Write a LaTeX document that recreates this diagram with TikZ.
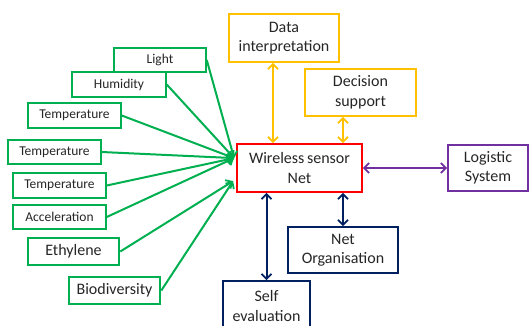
\documentclass[tikz,border=0pt]{standalone}
\usepackage{fontspec}
\setmainfont{Carlito}
\usetikzlibrary{arrows.meta,calc}
\definecolor{sgreen}{RGB}{0,176,80}
\definecolor{sgold}{RGB}{255,192,0}
\definecolor{sred}{RGB}{255,0,0}
\definecolor{spurple}{RGB}{112,48,160}
\definecolor{snavy}{RGB}{0,32,96}
\definecolor{stext}{RGB}{38,38,38}
\tikzset{
  box/.style={draw, line width=1.8pt, align=center, inner sep=0pt, text=stext, fill=white},
  sbox/.style={box, draw=sgreen, line width=1.5pt, font=\fontsize{13.5}{16}\selectfont},
  lbox/.style={box, draw=sgreen, line width=2.6pt, font=\fontsize{16}{19}\selectfont},
  mbox/.style={box, font=\fontsize{16}{19.5}\selectfont},
  tip/.style={Straight Barb[length=5pt,width=10pt,line width=1.8pt]},
  arr/.style={line width=2pt, -{Straight Barb[length=5pt,width=10pt,line width=1.8pt]}},
  darr/.style={line width=2pt, {Straight Barb[length=5pt,width=10pt,line width=1.8pt]}-{Straight Barb[length=5pt,width=10pt,line width=1.8pt]}},
}
\begin{document}
\begin{tikzpicture}[x=1pt,y=-1pt]
\useasboundingbox (0,0) rectangle (530,325);
\clip (0,0) rectangle (530,325);
% green sensor boxes
\node[sbox, minimum width=92pt, minimum height=24pt] (light) at (160,60) {Light};
\node[sbox, minimum width=94pt, minimum height=25pt] (hum) at (119,84.5) {Humidity};
\node[sbox, minimum width=93pt, minimum height=25pt] (t1) at (74.5,115.5) {Temperature};
\node[sbox, minimum width=93pt, minimum height=24pt] (t2) at (54.5,152) {Temperature};
\node[sbox, minimum width=93pt, minimum height=25pt] (t3) at (59.5,185.5) {Temperature};
\node[sbox, minimum width=93pt, minimum height=24pt] (acc) at (59.5,217) {Acceleration};
\node[lbox, minimum width=91pt, minimum height=27pt] (eth) at (73.5,251.5) {Ethylene};
\node[lbox, minimum width=91pt, minimum height=27pt] (bio) at (114.5,290.5) {Biodiversity};
% central and other boxes
\node[mbox, draw=sred, minimum width=125pt, minimum height=48pt] (wsn) at (299.5,168) {Wireless\,sensor\\Net};
\node[mbox, draw=sgold, minimum width=110pt, minimum height=48pt] (data) at (284,38) {Data\\interpretation};
\node[mbox, draw=sgold, minimum width=111pt, minimum height=47pt] (dec) at (360.5,92.5) {Decision\\support};
\node[mbox, draw=spurple, minimum width=80pt, minimum height=46pt] (log) at (488,168) {Logistic\\System};
\node[mbox, draw=snavy, minimum width=110pt, minimum height=46pt] (net) at (343,250) {Net\\Organisation};
\node[mbox, draw=snavy, minimum width=87pt, minimum height=50pt, text depth=0pt] (self) at (266.5,306) {Self\\evaluation};
% convergence points on the left side of the central box
\coordinate (up) at ($(wsn.north west)+(-2,15)$);
\coordinate (lo) at ($(wsn.north west)+(-3,38)$);
% green arrows
\foreach \n in {light,hum,t1,t2,t3,acc}
  \draw[arr, sgreen] (\n.east) -- (up);
\foreach \n in {eth,bio}
  \draw[arr, sgreen] (\n.east) -- (lo);
% yellow arrows
\draw[darr, sgold] ([xshift=-11pt]data.south) -- ([xshift=-11pt]data.south |- wsn.north);
\draw[darr, sgold] ([xshift=-17.5pt]dec.south) -- ([xshift=-17.5pt]dec.south |- wsn.north);
% purple arrow
\draw[darr, spurple] (wsn.east) -- (log.west);
% navy arrows
\draw[darr, snavy] (net.north |- wsn.south) -- (net.north);
\draw[darr, snavy] (self.north |- wsn.south) -- (self.north);
\end{tikzpicture}
\end{document}
